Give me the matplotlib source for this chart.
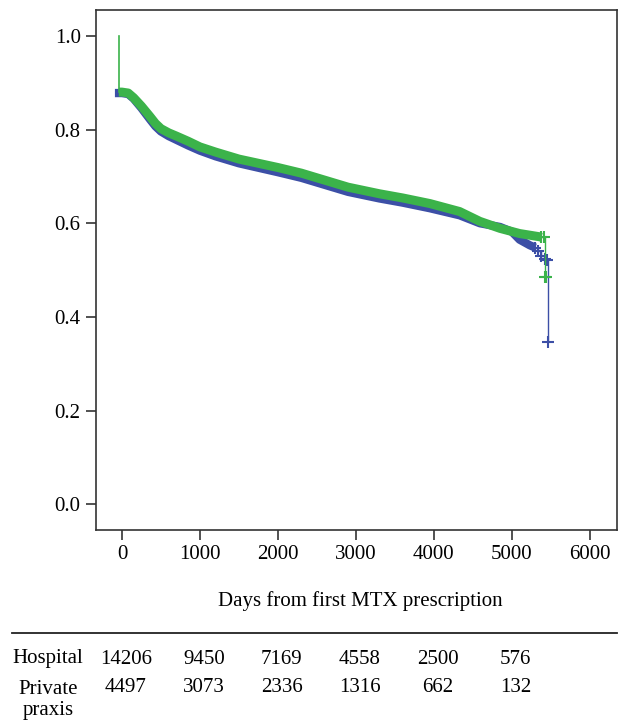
import matplotlib
matplotlib.use('Agg')
import matplotlib.pyplot as plt
from matplotlib.transforms import blended_transform_factory

## Font serif parecido al de la figura original
plt.rcParams['font.family'] = ['Liberation Serif', 'DejaVu Serif']
plt.rcParams['font.size'] = 15

## Curvas (dias, supervivencia del tratamiento)
hosp_days = [-90, 0, 80, 150, 250, 359, 430, 500, 600, 700, 850, 1000, 1200, 1500,
             2000, 2300, 2900, 3300, 3600, 3950, 4330, 4590, 4850, 5000, 5100, 5230, 5300]
hosp_surv = [0.878, 0.878, 0.876, 0.866, 0.846, 0.822, 0.807, 0.796, 0.786, 0.778,
             0.766, 0.755, 0.743, 0.728, 0.709, 0.697, 0.667, 0.653, 0.644, 0.632,
             0.617, 0.600, 0.592, 0.582, 0.565, 0.553, 0.548]
hosp_tail_days = [5300, 5340, 5380, 5420, 5450, 5460]
hosp_tail_surv = [0.548, 0.540, 0.530, 0.524, 0.522, 0.347]

priv_days = [-40, 0, 80, 150, 250, 359, 430, 500, 600, 700, 850, 1000, 1200, 1500,
             2000, 2300, 2900, 3300, 3600, 3950, 4330, 4590, 4850, 5100, 5360, 5380]
priv_surv = [0.880, 0.880, 0.878, 0.868, 0.850, 0.828, 0.813, 0.802, 0.793, 0.786,
             0.775, 0.763, 0.752, 0.737, 0.719, 0.707, 0.677, 0.663, 0.654, 0.642,
             0.625, 0.604, 0.589, 0.578, 0.571, 0.570]
priv_start_days = [-40, -38]
priv_start_surv = [1.0, 0.880]
priv_tail_days = [5380, 5410, 5425, 5440]
priv_tail_surv = [0.570, 0.570, 0.486, 0.486]

## Tabla de pacientes en riesgo
risk_ticks = [0, 1000, 2000, 3000, 4000, 5000]
hospital_risk = [14206, 9450, 7169, 4558, 2500, 576]
private_risk = [4497, 3073, 2336, 1316, 662, 132]

blue = '#3c4fa6'
green = '#3bb34a'

fig = plt.figure(figsize=(6.18, 7.26), dpi=100)
ax = fig.add_axes([0.1553, 0.270, 0.8427, 0.716])

# Hospital
ax.plot(hosp_days, hosp_surv, color=blue, lw=6, solid_capstyle='butt')
ax.plot(hosp_tail_days, hosp_tail_surv, color=blue, lw=1, drawstyle='steps-post')
ax.plot(hosp_tail_days, hosp_tail_surv, '+', color=blue, ms=8, mew=1.5)

# Private praxis
ax.plot(priv_start_days, priv_start_surv, color=green, lw=1.2, drawstyle='steps-post')
ax.plot(priv_days, priv_surv, color=green, lw=6.5, solid_capstyle='butt')
ax.plot(priv_tail_days, priv_tail_surv, color=green, lw=1, drawstyle='steps-post')
ax.plot(priv_tail_days, priv_tail_surv, '+', color=green, ms=8, mew=1.5)

ax.set_xlim(-333, 6346)
ax.set_ylim(-0.055, 1.055)
ax.set_xticks(risk_ticks + [6000])
ax.set_yticks([0.0, 0.2, 0.4, 0.6, 0.8, 1.0])
ax.set_yticklabels(['0.0', '0.2', '0.4', '0.6', '0.8', '1.0'])
ax.tick_params(direction='out', length=7, width=1.2, color='#333333', pad=4)
for s in ax.spines.values():
    s.set_linewidth(1.2)
    s.set_color('#333333')

fig.text(360 / 618, 1 - 601 / 726, 'Days from first MTX prescription', ha='center', va='center')

## Linea y tabla inferior
fig.add_artist(plt.Line2D([12 / 618, 617 / 618], [1 - 633 / 726] * 2, color='#222222', lw=1.3))

trans = blended_transform_factory(ax.transData, fig.transFigure)
fig.text(48 / 618, 1 - 659 / 726, 'Hospital', ha='center', va='center')
fig.text(48 / 618, 1 - 700 / 726, 'Private\npraxis', ha='center', va='center', linespacing=1.2)
for t, h, p in zip(risk_ticks, hospital_risk, private_risk):
    fig.text(t + 50, 1 - 659 / 726, str(h), ha='center', va='center', transform=trans)
    fig.text(t + 50, 1 - 687 / 726, str(p), ha='center', va='center', transform=trans)

fig.savefig('out.png', dpi=100)
